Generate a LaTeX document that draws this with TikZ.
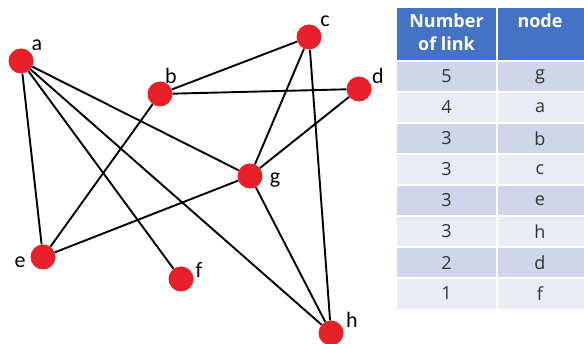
\documentclass[tikz,border=0pt]{standalone}
\usepackage{fontspec}
\setmainfont{Carlito}
\newfontfamily\tablefont{Open Sans}
\definecolor{dotred}{HTML}{E8202A}
\definecolor{headblue}{HTML}{4472C4}
\definecolor{rowdark}{HTML}{CFD5EA}
\definecolor{rowlight}{HTML}{E9EBF5}
\tikzset{
  vertex/.style={circle,fill=dotred,inner sep=0pt,minimum size=25pt},
  vlabel/.style={font=\fontsize{22}{26}\selectfont},
  link/.style={line width=1.9pt},
  cell/.style={font=\tablefont\fontsize{18}{22}\selectfont,text=black!80},
  headcell/.style={font=\tablefont\fontsize{18}{23}\selectfont\bfseries,text=white,align=center}
}
\begin{document}
\begin{tikzpicture}[x=1pt,y=-1pt]
\useasboundingbox (0,0) rectangle (584,344);

% graph
\path (21,61) node[vertex](a){} (160,94) node[vertex](b){} (309,37) node[vertex](c){} (359,89) node[vertex](d){}
  (43,257) node[vertex](e){} (181,279) node[vertex](f){} (250,176) node[vertex](g){} (331,333) node[vertex](h){};

\path (37,45) node[vlabel](la){a} (171,76) node[vlabel](lb){b} (325,21) node[vlabel](lc){c} (378,76) node[vlabel](ld){d}
  (20,262) node[vlabel](le){e} (199,270) node[vlabel](lf){f} (275,180) node[vlabel](lg){g} (352,320) node[vlabel](lh){h};

\draw[link] (a) -- (e);
\draw[link] (a) -- (f);
\draw[link] (a) -- (g);
\draw[link] (a) -- (h);
\draw[link] (b) -- (c);
\draw[link] (b) -- (d);
\draw[link] (b) -- (e);
\draw[link] (c) -- (g);
\draw[link] (c) -- (h);
\draw[link] (d) -- (g);
\draw[link] (e) -- (g);
\draw[link] (g) -- (h);

% table
\fill[headblue] (397,8) rectangle (584,61);
\foreach \n/\v [count=\i] in {5/g,4/a,3/b,3/c,3/e,3/h,2/d,1/f}{
  \pgfmathsetmacro\top{61+31*(\i-1)}
  \ifodd\i \def\rowcol{rowdark}\else\def\rowcol{rowlight}\fi
  \fill[\rowcol] (397,\top) rectangle (584,\top+31);
  \node[cell] (n\i) at (446.5,\top+15.5) {\n};
  \node[cell] (v\i) at (540,\top+15.5) {\v};
}
\foreach \i in {0,...,7}
  \draw[white,line width=1.5pt] (397,61+31*\i) -- (584,61+31*\i);
\draw[white,line width=1.5pt] (497,8) -- (497,310);
\node[headcell,anchor=north] (hnum) at (446.5,10) {Number\\of link};
\node[headcell,anchor=north] (hnode) at (540,10) {node};
\end{tikzpicture}
\end{document}
